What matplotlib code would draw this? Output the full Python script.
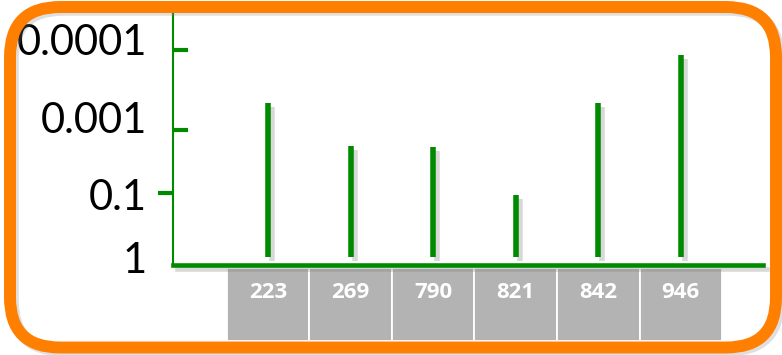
import matplotlib
matplotlib.use("Agg")
from matplotlib import pyplot as plt
from matplotlib import patheffects as pe
from matplotlib.patches import FancyBboxPatch
import matplotlib.transforms as mtransforms

# categories along the bottom (gray cells)
categories = ["223", "269", "790", "821", "842", "946"]
# bar heights, in the chart's own (schematic) height units
heights = [162, 119, 118, 70, 162, 210]
# y axis tick labels and where they sit on the height scale
tick_labels = ["0.0001", "0.001", "0.1", "1"]
tick_pos = [215, 135, 72, 0]
label_base = [210, 132, 55, -8]

green = "#008a00"
orange = "#ff7f00"
shadow = [pe.SimpleLineShadow(offset=(3, -3), shadow_color="gray", alpha=0.3), pe.Normal()]

fig = plt.figure(figsize=(7.82, 3.55), dpi=100)
ax = fig.add_axes([173 / 782, 90 / 355, 590 / 782, 255 / 355])
ax.patch.set_visible(False)

x = list(range(len(categories)))
ax.set_xlim(-1.15, 5.995)
ax.set_ylim(0, 255)

# stems
ax.vlines(x, 8, heights, color=green, lw=4, path_effects=shadow, zorder=3)

# axes
for s in ["top", "right"]:
    ax.spines[s].set_visible(False)
ax.spines["left"].set_color(green)
ax.spines["left"].set_linewidth(1.5)
ax.spines["bottom"].set_color(green)
ax.spines["bottom"].set_linewidth(3.3)
ax.spines["bottom"].set_path_effects(shadow)
ax.spines["bottom"].set_zorder(4)
ax.set_xticks([])
ax.set_yticks(tick_pos[:2])
ax.set_yticks([tick_pos[2]], minor=True)
ax.tick_params(axis="y", which="major", direction="in", length=11, width=3,
               color=green, labelleft=False)
ax.tick_params(axis="y", which="minor", direction="out", length=11, width=3,
               color=green, labelleft=False)

trans = mtransforms.blended_transform_factory(ax.transAxes, ax.transData)
for lab, yb in zip(tick_labels, label_base):
    ax.text(-0.044, yb, lab, transform=trans, ha="right", va="baseline",
            fontsize=30, family="Lato", color="black", clip_on=False)

# gray category cells under the axis
ax.bar(x, -73, bottom=-3, width=1, color="#b3b3b3", edgecolor="white",
       linewidth=1.3, clip_on=False, zorder=1)
for xi, c in zip(x, categories):
    ax.text(xi, -28, c, ha="center", va="center", fontsize=16, fontweight="bold",
            family="Open Sans", color="white", clip_on=False)

# rounded orange frame
frame = FancyBboxPatch((10 / 100, 7.5 / 100), 766 / 100, 340.5 / 100,
                       boxstyle="round,pad=0,rounding_size=0.5",
                       transform=fig.dpi_scale_trans, fill=False,
                       edgecolor=orange, linewidth=8.6, zorder=5,
                       path_effects=[pe.SimpleLineShadow(offset=(2, -2), shadow_color="gray", alpha=0.25),
                                     pe.Normal()])
fig.patches.append(frame)

fig.savefig("out.png", dpi=100)
